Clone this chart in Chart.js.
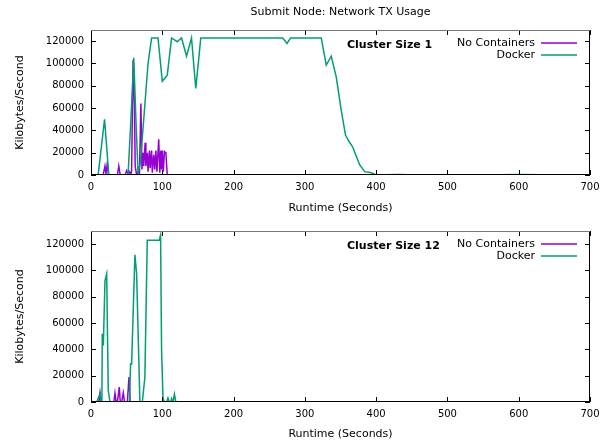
<!DOCTYPE html>
<html>
<head>
<meta charset="utf-8">
<script src="https://cdn.jsdelivr.net/npm/chart.js@4.4.0/dist/chart.umd.min.js"></script>
<style>
body{margin:0;background:#fff;width:613px;height:443px;overflow:hidden;position:relative}
canvas{position:absolute;left:0}
</style>
</head>
<body>
<canvas id="c1" style="top:0;width:613px;height:218px"></canvas>
<canvas id="c2" style="top:218px;width:613px;height:225px"></canvas>
<script>
// -------- DADOS --------
const xTicks = [0,100,200,300,400,500,600,700];
const yTicks = [0,20000,40000,60000,80000,100000,120000];
const seriesNames = ["No Containers","Docker"];

// Cluster Size 1
const noContT1 = [0,17,19.6,21,22.8,24.5,37,39,41,48,50,52,54,56,57,59,61,62,64,66,68,70,71.5,73,74,76,77,79,80,82,83,85,86,88,89.5,91,92.5,95,96.5,98,99,100,101.5,103,105,107,155];
const noContV1 = [0,0,8000,1000,10000,0,0,8000,0,0,4000,1000,3000,0,4000,103000,60000,8000,0,3000,1000,64000,5000,20000,8000,29000,8000,20000,3000,22000,6000,22000,2000,18000,5000,22000,3000,32000,2000,22000,5000,22000,3000,21000,20000,0,0];
const dockerT1 = [10,19,25,52,56,60,63,66,69,74,80,85,94,100,107,113,121,127,134,141,147,154,200,269,275,280,323,330,337,344,351,357,362,367,372,377,384,393,400,430,460,500,550,600,665];
const dockerV1 = [0,50000,0,0,50000,105000,50000,2000,10000,50000,100000,122880,122880,84000,89500,122880,119500,122880,106500,122880,77600,122880,122880,122880,118000,122880,122880,98500,106500,88000,58200,35800,30000,25300,17000,9000,3000,2000,0,500,0,300,0,400,0];

// Cluster Size 12
const noContT12 = [0,11,12.6,14,32,33.6,35,37,39.7,41,43,45.3,47,51,53.3,55,80];
const noContV12 = [0,0,7000,0,0,6800,1000,0,11400,0,0,7000,0,0,19000,0,0];
const dockerT12 = [8,12.6,14,15.3,15.8,17.3,19.6,22,24.2,26.6,54,55.5,57,61.6,64,68.6,72,75.6,78.9,95.6,97.6,99,101,103,106,108,110,112,113,115,117,119,175];
const dockerV12 = [0,6300,0,0,51800,43000,92200,97300,8900,0,0,29100,29000,111900,97500,0,0,19000,122880,122880,127000,40000,3000,0,0,3000,0,0,2500,0,6000,0,0];

const cores = ["#9400d3","#009e73"];
const fonteTick = {family:"'DejaVu Sans', sans-serif", size:10};
const fonte = {family:"'DejaVu Sans', sans-serif", size:11};

// -------- MOLDURA / LEGENDA --------
const moldura = {
    id:"moldura",
    afterDraw(chart, args, o){
        const {ctx, chartArea:a, scales:{x,y}} = chart;
        ctx.save();
        ctx.lineWidth = 1;
        ctx.strokeStyle = "#000";
        ctx.beginPath();
        xTicks.forEach(v=>{
            let px = Math.round(x.getPixelForValue(v)) + 0.5;
            ctx.moveTo(px,a.bottom); ctx.lineTo(px,a.bottom-5);
            ctx.moveTo(px,a.top); ctx.lineTo(px,a.top+5);
        });
        yTicks.forEach(v=>{
            let py = Math.round(y.getPixelForValue(v)) + 0.5;
            ctx.moveTo(a.left,py); ctx.lineTo(a.left+5,py);
            ctx.moveTo(a.right,py); ctx.lineTo(a.right-5,py);
        });
        ctx.moveTo(a.left+0.5, a.top); ctx.lineTo(a.left+0.5, a.bottom);
        ctx.moveTo(a.left, a.bottom-0.5); ctx.lineTo(a.right, a.bottom-0.5);
        ctx.moveTo(a.right-0.5, a.top); ctx.lineTo(a.right-0.5, a.bottom);
        ctx.stroke();
        // borda de cima mais clara, como no original
        ctx.strokeStyle = "#777";
        ctx.beginPath();
        ctx.moveTo(a.left, a.top+0.5); ctx.lineTo(a.right, a.top+0.5);
        ctx.stroke();

        ctx.fillStyle = "#000";
        ctx.textBaseline = "middle";
        if(o.titulo){
            ctx.font = "11px 'DejaVu Sans'";
            ctx.textAlign = "center";
            ctx.fillText(o.titulo, (a.left+a.right)/2, 12);
        }
        ctx.font = "bold 11px 'DejaVu Sans'";
        ctx.textAlign = "left";
        ctx.fillText(o.cluster, 347, a.top+15);

        ctx.font = "11px 'DejaVu Sans'";
        ctx.textAlign = "right";
        seriesNames.forEach((n,i)=>{
            let ly = a.top + 13 + i*12;
            ctx.fillStyle = "#000";
            ctx.fillText(n, a.right-55, ly);
            ctx.strokeStyle = cores[i];
            ctx.lineWidth = 1.5;
            ctx.beginPath();
            ctx.moveTo(a.right-49, ly); ctx.lineTo(a.right-13, ly);
            ctx.stroke();
        });
        ctx.restore();
    }
};

// -------- GRAFICO --------
function grafico(id, h, cfg){
    let canvas = document.getElementById(id);
    canvas.width = 613; canvas.height = h;
    return new Chart(canvas, {
        type:"line",
        data:{
            datasets:[
                {label:seriesNames[0], data:cfg.t0.map((t,i)=>({x:t,y:cfg.v0[i]})), borderColor:cores[0], order:1},
                {label:seriesNames[1], data:cfg.t1.map((t,i)=>({x:t,y:cfg.v1[i]})), borderColor:cores[1], order:0}
            ]
        },
        options:{
            responsive:false,
            animation:false,
            events:[],
            layout:{padding:{top:cfg.top, right:23, left:0, bottom:0}},
            elements:{line:{borderWidth:1.5, tension:0}, point:{radius:0}},
            plugins:{legend:{display:false}, tooltip:{enabled:false},
                moldura:{titulo:cfg.titulo, cluster:cfg.cluster}},
            scales:{
                x:{type:"linear", min:0, max:700,
                    afterBuildTicks:s=>{ s.ticks = xTicks.map(v=>({value:v})); },
                    afterFit:s=>{ s.height = cfg.xh; },
                    grid:{display:false, drawTicks:false}, border:{display:false},
                    ticks:{font:fonteTick, color:"#000", padding:6, maxRotation:0, callback:v=>String(v)},
                    title:{display:true, text:"Runtime (Seconds)", font:fonte, color:"#000", padding:{top:0,bottom:cfg.tb}}
                },
                y:{type:"linear", min:0, max:130000,
                    afterBuildTicks:s=>{ s.ticks = yTicks.map(v=>({value:v})); },
                    afterFit:s=>{ s.width = 91; },
                    grid:{display:false, drawTicks:false}, border:{display:false},
                    ticks:{font:fonteTick, color:"#000", padding:7, callback:v=>String(v)},
                    title:{display:true, text:"Kilobytes/Second", font:fonte, color:"#000", padding:{top:14,bottom:0}}
                }
            }
        },
        plugins:[moldura]
    });
}

grafico("c1", 218, {t0:noContT1, v0:noContV1, t1:dockerT1, v1:dockerV1,
    top:30, xh:43, tb:3, titulo:"Submit Node: Network TX Usage", cluster:"Cluster Size 1"});
grafico("c2", 225, {t0:noContT12, v0:noContV12, t1:dockerT12, v1:dockerV12,
    top:13, xh:41, tb:2, titulo:null, cluster:"Cluster Size 12"});
</script>
</body>
</html>
